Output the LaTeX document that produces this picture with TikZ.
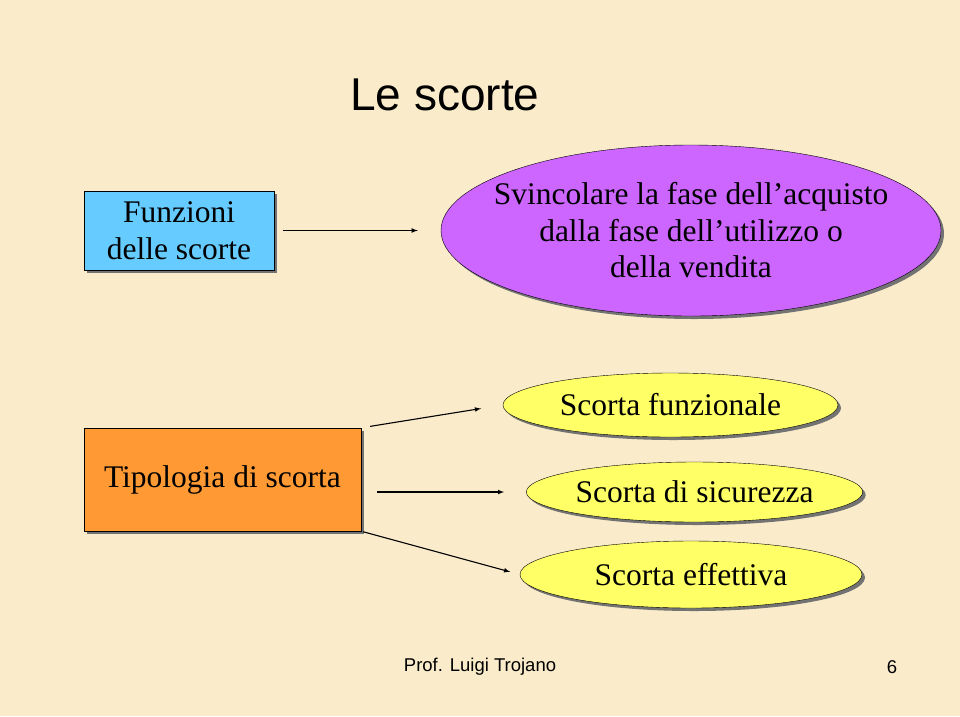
\documentclass[tikz,border=0pt]{standalone}
\usepackage{fontspec}
\setmainfont{Liberation Serif}
\newfontfamily\arialfont{Liberation Sans}
\usetikzlibrary{positioning,arrows,shapes,shadows}

\definecolor{paper}{RGB}{250,236,203}
\definecolor{boxblue}{RGB}{102,204,255}
\definecolor{boxorange}{RGB}{255,153,51}
\definecolor{ovalpurple}{RGB}{204,102,255}
\definecolor{ovalyellow}{RGB}{255,255,102}

\begin{document}
\begin{tikzpicture}[
        x=1pt, y=-1pt,
        shade/.style={drop shadow={shadow xshift=3pt, shadow yshift=-3pt, fill=black!55, opacity=1}},
        box/.style={draw, thin, align=center, inner sep=0pt, shade, font=\fontsize{31.5}{36.5}\selectfont},
        oval/.style={draw, thin, ellipse, align=center, inner sep=0pt, shade, font=\fontsize{31.5}{36.5}\selectfont},
        tag/.style={font=\arialfont\fontsize{18.5}{20}\selectfont},
        arr/.style={->, >=latex, line width=1.1pt}
      ]

      \fill[paper] (0, 0) rectangle (960, 716);
      \useasboundingbox (0, 0) rectangle (960, 716);

      \node (title) at(445, 95) [font=\arialfont\fontsize{46}{50}\selectfont] {Le scorte};

      \node (FS) at(179, 230.5) [box, fill=boxblue, minimum width=190, minimum height=79] {Funzioni\\delle scorte};
      \node (SV) at(691, 230.5) [oval, fill=ovalpurple, inner xsep=-21pt, minimum width=500, minimum height=171] {Svincolare la fase dell’acquisto\\dalla fase dell’utilizzo o\\della vendita};

      \node (TS) at(222.5, 479.5) [box, fill=boxorange, minimum width=277, minimum height=103] {Tipologia di scorta};
      \node (SF) at(670.5, 405) [oval, fill=ovalyellow, minimum width=335, minimum height=64] {Scorta funzionale};
      \node (SS) at(694.5, 492) [oval, fill=ovalyellow, minimum width=335, minimum height=60] {Scorta di sicurezza};
      \node (SE) at(691, 574.5) [oval, fill=ovalyellow, minimum width=342, minimum height=67] {Scorta effettiva};

      \node (prof) at(480, 667) [tag] {Prof. Luigi Trojano};
      \node (page) at(892, 667) [tag] {6};

      \draw[arr, shorten <=9pt, shorten >=23pt] (FS.east) -- (SV.west);
      \draw[arr, shorten <=9pt, shorten >=22pt] (TS.north east) -- (SF.west);
      \draw[arr, shorten <=16pt, shorten >=22pt] (TS.east |- SS.west) -- (SS.west);
      \draw[arr, shorten <=2pt, shorten >=10pt] (TS.south east) -- (SE.west);
    \end{tikzpicture}
\end{document}
